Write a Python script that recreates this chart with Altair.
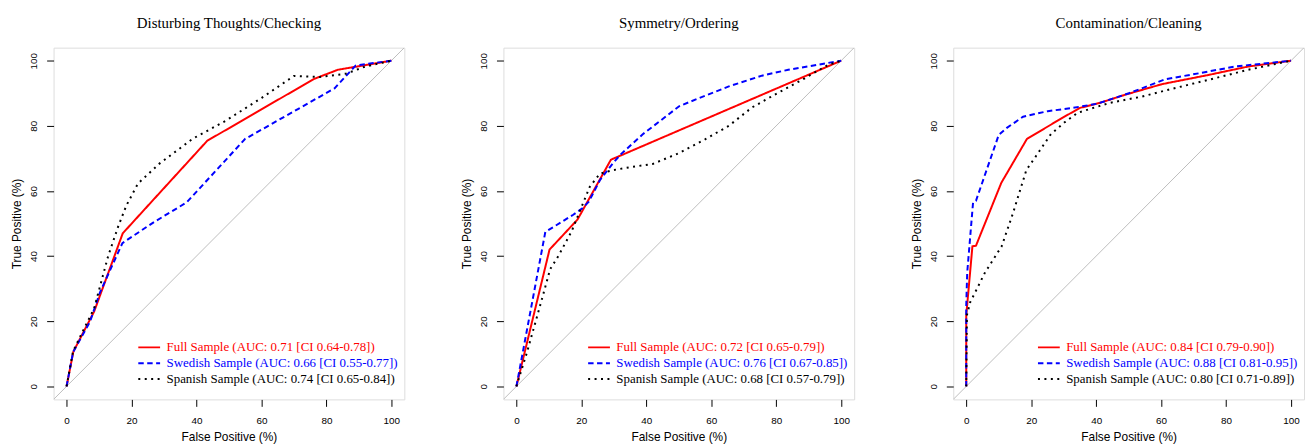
import altair as alt
import pandas as pd

panel_titles = ["Disturbing Thoughts/Checking", "Symmetry/Ordering", "Contamination/Cleaning"]
samples = ["Full", "Swedish", "Spanish"]

legend_labels = [
    ["Full Sample (AUC: 0.71 [CI 0.64-0.78])",
     "Swedish Sample (AUC: 0.66 [CI 0.55-0.77])",
     "Spanish Sample (AUC: 0.74 [CI 0.65-0.84])"],
    ["Full Sample (AUC: 0.72 [CI 0.65-0.79])",
     "Swedish Sample (AUC: 0.76 [CI 0.67-0.85])",
     "Spanish Sample (AUC: 0.68 [CI 0.57-0.79])"],
    ["Full Sample (AUC: 0.84 [CI 0.79-0.90])",
     "Swedish Sample (AUC: 0.88 [CI 0.81-0.95])",
     "Spanish Sample (AUC: 0.80 [CI 0.71-0.89])"],
]

# Panel 1: Disturbing Thoughts/Checking
full_x1 = [0, 2.1, 8.5, 17.3, 43.3, 76.2, 83.5, 100]
full_y1 = [0, 10.7, 23.0, 47.0, 75.4, 94.4, 97.2, 100]
swe_x1 = [0, 2.0, 7.2, 10.3, 17.2, 27.0, 37.0, 55.0, 60.0, 82.5, 89.0, 100]
swe_y1 = [0, 10.5, 19.8, 28.9, 44.0, 50.5, 56.5, 76.0, 78.8, 91.5, 98.5, 100]
spa_x1 = [0, 2.0, 8.5, 12.8, 15.9, 18.4, 22.0, 28.6, 38.8, 48.9, 60.1, 70.0, 78.0, 86.0, 92.0, 100]
spa_y1 = [0, 10.8, 24.0, 40.0, 49.1, 55.5, 62.3, 68.4, 76.0, 81.5, 88.6, 95.3, 95.0, 96.0, 98.2, 100]

# Panel 2: Symmetry/Ordering
full_x2 = [0, 10.2, 18.8, 29.1, 100]
full_y2 = [0, 42.0, 51.2, 69.6, 100]
swe_x2 = [0, 8.9, 17.5, 20.3, 22.3, 25.7, 29.7, 32.3, 38.9, 50.1, 56.2, 65.4, 75.6, 83.7, 100]
swe_y2 = [0, 47.4, 52.7, 54.7, 56.7, 63.3, 68.5, 71.4, 77.4, 86.0, 88.5, 92.1, 95.4, 97.2, 100]
spa_x2 = [0, 3.3, 7.3, 10.4, 12.9, 17.0, 20.1, 22.6, 25.7, 29.7, 35.8, 42.0, 50.0, 58.2, 65.4, 72.5, 79.6, 88.8, 95.9, 100]
spa_y2 = [0, 10.6, 24.8, 36.0, 40.0, 47.6, 55.2, 61.3, 65.3, 66.4, 67.4, 68.3, 71.6, 75.9, 80.0, 85.6, 89.6, 94.6, 98.7, 100]

# Panel 3: Contamination/Cleaning
full_x3 = [0, 0, 1.9, 3.0, 10.8, 18.7, 29.7, 35.0, 41.0, 49.1, 60.3, 74.5, 86.8, 100]
full_y3 = [0, 21.8, 43.0, 43.2, 62.5, 76.0, 82.5, 85.5, 87.0, 89.6, 92.8, 95.6, 98.2, 100]
swe_x3 = [0, 0, 0.3, 2.1, 3.0, 10.0, 12.4, 17.5, 25.1, 32.8, 40.4, 50.1, 61.3, 71.5, 82.7, 100]
swe_y3 = [0, 25.0, 35.0, 56.5, 57.0, 77.2, 79.3, 82.8, 84.5, 85.5, 86.8, 90.0, 94.3, 96.1, 98.2, 100]
spa_x3 = [0, 0.2, 1.2, 5.8, 10.9, 14.4, 18.5, 21.6, 26.1, 30.2, 34.3, 44.0, 54.2, 62.3, 74.5, 86.8, 100]
spa_y3 = [0, 21.8, 25.8, 35.0, 43.0, 53.2, 66.4, 70.9, 77.5, 81.0, 84.0, 87.0, 89.0, 91.1, 94.1, 97.2, 100]

curves = [
    [(full_x1, full_y1), (swe_x1, swe_y1), (spa_x1, spa_y1)],
    [(full_x2, full_y2), (swe_x2, swe_y2), (spa_x2, spa_y2)],
    [(full_x3, full_y3), (swe_x3, swe_y3), (spa_x3, spa_y3)],
]

diag_vals = [-4, 104]
tick_vals = [0, 20, 40, 60, 80, 100]
line_colors = ["#ff0000", "#0000ff", "#000000"]
line_dashes = [[1, 0], [5.5, 3.5], [2, 4.5]]

SANS = "Liberation Sans"
SERIF = "Liberation Serif"

label_fill = ("indexof(datum.label, 'Full') == 0 ? '#ff0000' : "
              "(indexof(datum.label, 'Swedish') == 0 ? '#0000ff' : '#000000')")


def make_panel(i):
    rows = []
    for s, (xs, ys) in enumerate(curves[i]):
        for k, (xv, yv) in enumerate(zip(xs, ys)):
            rows.append({"fp": xv, "tp": yv, "label": legend_labels[i][s], "idx": k})
    df = pd.DataFrame(rows)
    diag = pd.DataFrame({"fp": diag_vals, "tp": diag_vals})

    xscale = alt.Scale(domain=[-4, 104], nice=False, zero=False)
    yscale = alt.Scale(domain=[-4, 104], nice=False, zero=False)

    common = dict(values=tick_vals, tickSize=7, domain=False, grid=False,
                  labelFont=SANS, labelFontSize=10, labelColor="black",
                  titleFont=SANS, titleFontSize=12, titleFontWeight="normal", titleColor="black",
                  tickColor="black", tickWidth=1)
    xax = alt.Axis(title="False Positive (%)", labelPadding=9, titlePadding=6, **common)
    yax = alt.Axis(title="True Positive (%)", labelAngle=270, labelPadding=8, titlePadding=5, **common)

    leg = alt.Legend(orient="none", legendX=90, legendY=296, title=None,
                     symbolType="M-2.2,0H2.2", symbolSize=100, symbolStrokeWidth=2,
                     symbolFillColor="transparent",
                     labelFont=SERIF, labelFontSize=13, labelOffset=11, labelLimit=500,
                     rowPadding=2, padding=0,
                     labelColor=alt.ExprRef(expr=label_fill))

    diag_layer = alt.Chart(diag).mark_line(color="#bdbdbd", strokeWidth=1, clip=True).encode(
        x=alt.X("fp:Q", scale=xscale, axis=xax),
        y=alt.Y("tp:Q", scale=yscale, axis=yax),
    )
    lines = alt.Chart(df).mark_line(strokeWidth=2, clip=True, strokeCap="butt").encode(
        x=alt.X("fp:Q", scale=xscale, axis=xax),
        y=alt.Y("tp:Q", scale=yscale, axis=yax),
        color=alt.Color("label:N", scale=alt.Scale(domain=legend_labels[i], range=line_colors),
                        legend=leg),
        strokeDash=alt.StrokeDash("label:N", scale=alt.Scale(domain=legend_labels[i], range=line_dashes),
                                  legend=leg),
        order="idx:Q",
    )
    return alt.layer(diag_layer, lines).properties(
        width=354, height=355,
        title=alt.TitleParams(panel_titles[i], font=SERIF, fontSize=15, fontWeight="normal",
                              color="black", anchor="middle", offset=17),
    )


chart = alt.hconcat(*[make_panel(i) for i in range(3)], spacing=55).resolve_scale(
    color="independent", strokeDash="independent"
).resolve_legend(
    color="independent", strokeDash="independent"
).properties(
    padding={"left": 2, "top": 5, "right": 0, "bottom": 0}
).configure_view(
    stroke="#222222", strokeWidth=1
).configure(background="white")

chart.save("out.html", embed_options={"renderer": "svg", "actions": False})
